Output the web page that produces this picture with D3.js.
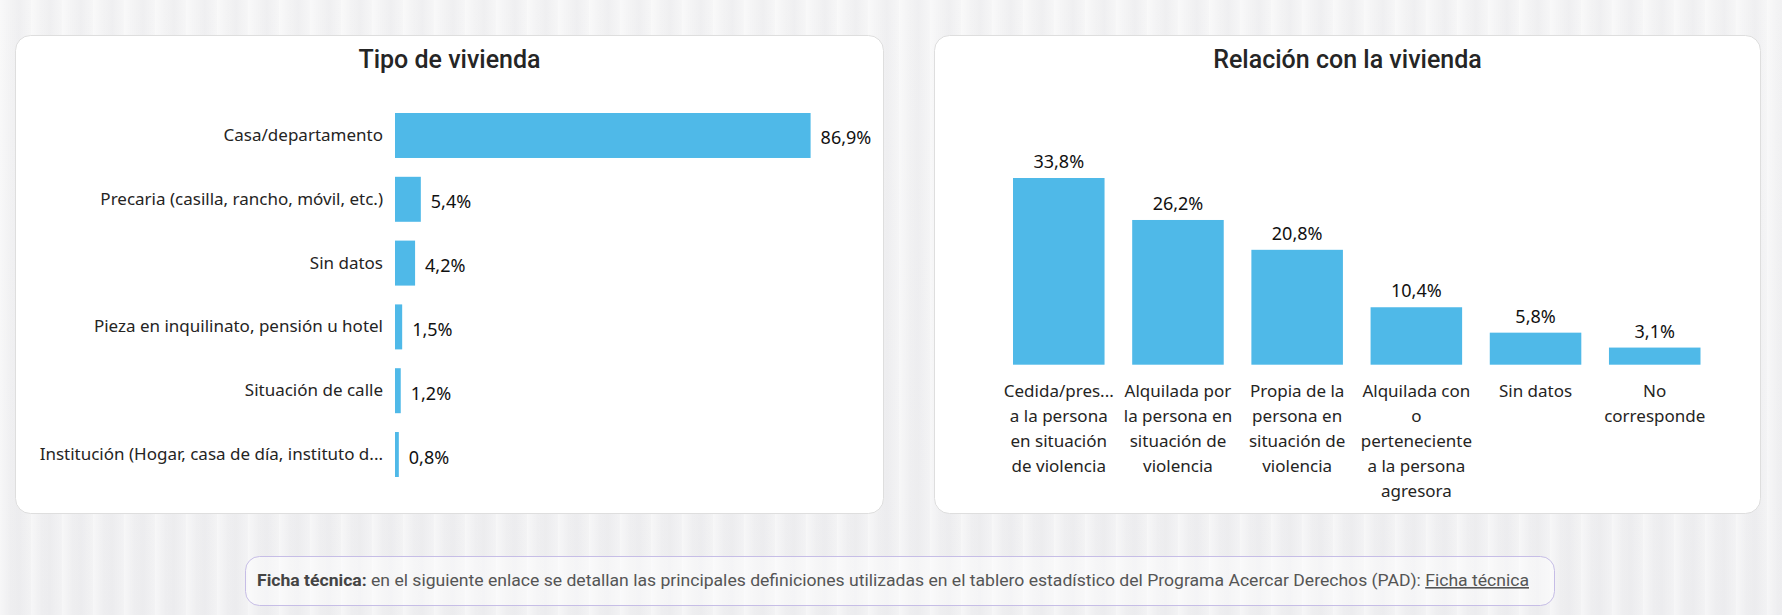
<!DOCTYPE html>
<html>
<head>
<meta charset="utf-8">
<script src="https://cdn.jsdelivr.net/npm/d3@7"></script>
<style>
  html, body { margin: 0; padding: 0; }
  body {
    width: 1782px; height: 615px; overflow: hidden;
    background:
      repeating-linear-gradient(90deg, rgba(255,255,255,0.5) 0px, rgba(255,255,255,0) 11px, rgba(232,232,235,0.35) 19px, rgba(255,255,255,0.25) 31px),
      linear-gradient(180deg, #f3f3f4, #eeeef0);
  }
</style>
</head>
<body>
<div id="chart-area"></div>
<script>
// Dataset - Tipo de vivienda
var tipoLabels = ['Casa/departamento', 'Precaria (casilla, rancho, móvil, etc.)', 'Sin datos',
  'Pieza en inquilinato, pensión u hotel', 'Situación de calle', 'Institución (Hogar, casa de día, instituto d...'];
var tipoValues = [86.9, 5.4, 4.2, 1.5, 1.2, 0.8];

// Dataset - Relación con la vivienda
var relacionLabels = [
  ['Cedida/pres...', 'a la persona', 'en situación', 'de violencia'],
  ['Alquilada por', 'la persona en', 'situación de', 'violencia'],
  ['Propia de la', 'persona en', 'situación de', 'violencia'],
  ['Alquilada con', 'o', 'perteneciente', 'a la persona', 'agresora'],
  ['Sin datos'],
  ['No', 'corresponde']
];
var relacionValues = [33.8, 26.2, 20.8, 10.4, 5.8, 3.1];

var fmt = function (v) { return d3.format('.1f')(v).replace('.', ',') + '%'; };
var barColor = '#4fb9e8';
var labelFont = "'Segoe UI', 'Noto Sans', sans-serif";
var titleFont = "'Roboto', 'DejaVu Sans', sans-serif";

// Setup SVG
var svg = d3.select('#chart-area').append('svg')
  .attr('width', 1782)
  .attr('height', 615)
  .style('display', 'block');

// Cards
function card(x, y, w, h, title) {
  svg.append('rect')
    .attr('x', x).attr('y', y).attr('width', w).attr('height', h)
    .attr('rx', 15)
    .attr('fill', '#ffffff')
    .attr('stroke', '#dedede');
  svg.append('text')
    .attr('x', x + w / 2).attr('y', y + 32)
    .attr('text-anchor', 'middle')
    .style('font-family', titleFont)
    .style('font-weight', 500)
    .style('font-size', '25px')
    .attr('fill', '#252525')
    .text(title);
}
card(15.5, 35.5, 868, 478, 'Tipo de vivienda');
card(934.5, 35.5, 826, 478, 'Relación con la vivienda');

// ---- Horizontal bar chart ----
var hChart = svg.append('g').attr('transform', 'translate(395, 0)');

var x = d3.scaleLinear().domain([0, 86.9]).range([0, 415.6]);
var y = d3.scaleBand().domain(tipoLabels).range([113, 477]).paddingInner(0.295).paddingOuter(0);

hChart.selectAll('.hbar')
  .data(tipoValues)
  .enter()
  .append('rect')
  .attr('class', 'hbar')
  .attr('x', 0)
  .attr('y', function (d, i) { return y(tipoLabels[i]); })
  .attr('width', function (d) { return x(d); })
  .attr('height', y.bandwidth())
  .attr('fill', barColor);

hChart.selectAll('.hval')
  .data(tipoValues)
  .enter()
  .append('text')
  .attr('class', 'hval')
  .attr('x', function (d) { return x(d) + 10; })
  .attr('y', function (d, i) { return y(tipoLabels[i]) + y.bandwidth() / 2 + 2; })
  .attr('dominant-baseline', 'central')
  .style('font-family', labelFont)
  .style('font-size', '18px')
  .attr('fill', '#111')
  .text(function (d) { return fmt(d); });

var yAxis = hChart.append('g')
  .call(d3.axisLeft(y).tickSize(0).tickPadding(12));
yAxis.select('.domain').remove();
yAxis.selectAll('text')
  .style('font-family', labelFont)
  .style('font-size', '17px')
  .attr('fill', '#252423');

// ---- Vertical bar chart ----
var vChart = svg.append('g');
var idx = relacionValues.map(function (d, i) { return i; });
var xb = d3.scaleBand().domain(idx).range([1013, 1700.5]).paddingInner(0.232).paddingOuter(0);
var yb = d3.scaleLinear().domain([0, 33.8]).range([364.7, 178]);

vChart.selectAll('.vbar')
  .data(relacionValues)
  .enter()
  .append('rect')
  .attr('class', 'vbar')
  .attr('x', function (d, i) { return xb(i); })
  .attr('y', function (d) { return yb(d); })
  .attr('width', xb.bandwidth())
  .attr('height', function (d) { return yb(0) - yb(d); })
  .attr('fill', barColor);

vChart.selectAll('.vval')
  .data(relacionValues)
  .enter()
  .append('text')
  .attr('class', 'vval')
  .attr('x', function (d, i) { return xb(i) + xb.bandwidth() / 2; })
  .attr('y', function (d) { return yb(d) - 10; })
  .attr('text-anchor', 'middle')
  .style('font-family', labelFont)
  .style('font-size', '18px')
  .attr('fill', '#111')
  .text(function (d) { return fmt(d); });

var xAxis = vChart.append('g')
  .attr('transform', 'translate(0,' + yb(0) + ')')
  .call(d3.axisBottom(xb).tickSize(0).tickFormat(''));
xAxis.select('.domain').remove();
xAxis.selectAll('.tick').each(function (i) {
  var t = d3.select(this).append('text')
    .attr('text-anchor', 'middle')
    .style('font-family', labelFont)
    .style('font-size', '17px')
    .attr('fill', '#252423');
  relacionLabels[i].forEach(function (line, k) {
    t.append('tspan').attr('x', 0).attr('y', 32 + k * 25).text(line);
  });
});

// ---- Footer ----
svg.append('rect')
  .attr('x', 245.5).attr('y', 556.5).attr('width', 1309).attr('height', 49)
  .attr('rx', 14)
  .attr('fill', 'rgba(255,255,255,0.45)')
  .attr('stroke', '#c6bde6');

var foot = svg.append('text')
  .attr('x', 257).attr('y', 586)
  .attr('textLength', 1272)
  .attr('lengthAdjust', 'spacingAndGlyphs')
  .style('font-family', titleFont)
  .style('font-size', '16px')
  .attr('fill', '#555');
foot.append('tspan').style('font-weight', 700).attr('fill', '#444').text('Ficha técnica:');
foot.append('tspan').text(' en el siguiente enlace se detallan las principales definiciones utilizadas en el tablero estadístico del Programa Acercar Derechos (PAD): ');
foot.append('tspan').style('text-decoration', 'underline').text('Ficha técnica');
</script>
</body>
</html>
